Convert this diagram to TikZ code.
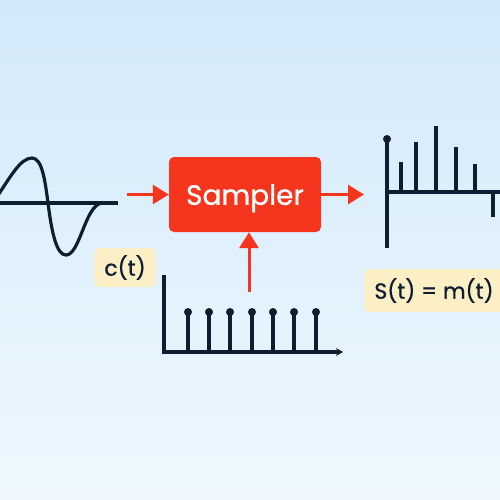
\documentclass[tikz,border=0pt]{standalone}
\usepackage{fontspec}
\setmainfont{Poppins}
\newfontfamily\heavyfont[FakeBold=0.8]{Poppins}
\usetikzlibrary{arrows.meta}
\definecolor{navy}{HTML}{0F1D33}
\definecolor{samplered}{HTML}{F5351D}
\definecolor{tagfill}{HTML}{FCEFC6}
\definecolor{bgtop}{HTML}{D3E9FA}
\definecolor{bgbot}{HTML}{EEF8FE}
\tikzstyle{sig}=[line width=3.2pt,navy]
\tikzstyle{feed}=[line width=3pt,samplered,-{Triangle[length=16pt,width=19pt]}]
\tikzstyle{block}=[fill=samplered,rounded corners=5pt,text=white,minimum width=152pt,minimum height=75pt,text depth=0pt,font=\heavyfont\fontsize{28}{30}\selectfont]
\tikzstyle{tag}=[fill=tagfill,rounded corners=5pt,text=navy,inner xsep=10pt,font=\heavyfont\fontsize{22}{24}\selectfont]
\tikzstyle{tip}=[fill=navy,circle,inner sep=0pt,minimum size=8pt]

\begin{document}
\begin{tikzpicture}[x=1pt,y=-1pt]
	\clip (0,0) rectangle (500,500);
	\shade[top color=bgtop,bottom color=bgbot] (0,0) rectangle (500,500);

	% input wave
	\draw[sig] (0,203) -- (118,203);
	\draw[sig] (-4,198) .. controls (10,178) and (20,158) .. (32,158)
		.. controls (42,158) and (45,180) .. (48,203)
		.. controls (52,235) and (57,255) .. (66,255)
		.. controls (80,255) and (85,205) .. (102,203);
	\node[tag,minimum width=60pt,minimum height=39pt] (ct) at (125,267.5) {c(t)};

	\node[block] (sampler) at (245,194.5) {Sampler};

	% impulse train
	\draw[sig,-{Stealth[length=7pt,width=8pt]}] (164,275) -- (164,352) coordinate (orig) -- (343,352);
	\foreach \x/\name in {188/p1, 209/p2, 230/p3, 252/p4, 273/p5, 294/p6, 316/p7}{
		\node[tip] (\name) at (\x,312) {};
		\draw[sig] (\name.center) -- (\x,352);
	}

	% sampled output
	\node[tip] (s0) at (387,139) {};
	\draw[sig] (s0.center) -- (387,248);
	\draw[sig] (387,192) -- (505,192);
	\foreach \x/\h in {401/162, 416/142, 436/126, 456/147, 475/164, 493/217}
		\draw[sig] (\x,192) -- (\x,\h);
	\node[tag,minimum height=43pt] (st) at (434,290.5) {S(t) = m(t)};

	\coordinate (win) at (127,194.5);
	\coordinate (sout) at (364,194.5);
	\coordinate (clk) at (249,292);
	\draw[feed] (win) -- (sampler.west);
	\draw[feed] (sampler.east) -- (sout);
	\draw[feed] (clk) -- (clk |- sampler.south);
\end{tikzpicture}
\end{document}
